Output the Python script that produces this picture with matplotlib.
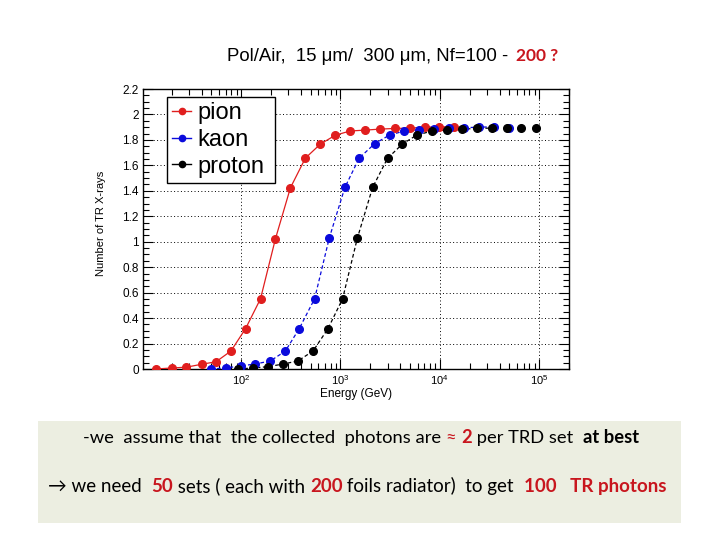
import matplotlib
matplotlib.use("Agg")
import matplotlib.pyplot as plt
import numpy as np
from matplotlib.lines import Line2D
from matplotlib.patches import Rectangle
from matplotlib.font_manager import FontProperties
from matplotlib.ticker import FixedLocator, LogLocator, NullFormatter, FuncFormatter

# ---------------- data ----------------
pion_E = [14, 20, 28, 40, 56, 79, 111, 157, 222, 314, 444, 628, 890,
          1250, 1780, 2510, 3550, 5000, 7050, 9900, 14000]
pion_N = [0.0, 0.008, 0.014, 0.037, 0.057, 0.141, 0.317, 0.552, 1.024, 1.424,
          1.657, 1.767, 1.837, 1.870, 1.877, 1.885, 1.890, 1.893, 1.900, 1.903, 1.903]

kaon_E = [49.5, 70, 99, 138, 197, 279, 385, 550, 773, 1110, 1545, 2210, 3120,
          4410, 6160, 8770, 12350, 17500, 24800, 35100, 49700]
kaon_N = [0.0, 0.008, 0.024, 0.039, 0.063, 0.141, 0.317, 0.552, 1.030, 1.427,
          1.657, 1.770, 1.838, 1.870, 1.877, 1.888, 1.893, 1.896, 1.900, 1.903, 1.896]

proton_E = [93, 131, 186, 265, 373, 530, 750, 1052, 1480, 2110, 2980, 4210, 5870,
            8400, 11870, 16800, 23900, 33500, 47500, 66000, 93500]
proton_N = [0.0, 0.008, 0.018, 0.039, 0.063, 0.141, 0.317, 0.552, 1.027, 1.427,
            1.655, 1.768, 1.838, 1.870, 1.877, 1.885, 1.890, 1.893, 1.896, 1.896, 1.896]

series_names = ["pion", "kaon", "proton"]
y_ticks = [0, 0.2, 0.4, 0.6, 0.8, 1.0, 1.2, 1.4, 1.6, 1.8, 2.0, 2.2]

title_main = "Pol/Air,  15 \u03bcm/  300 \u03bcm, Nf=100 - "
title_red = "200 ?"

line1 = [("-we  assume that  the collected  photons are ", "k", "normal"),
         ("\u2248 ", "#c8161e", "normal"),
         ("2", "#c8161e", "bold"),
         (" per TRD set  ", "k", "normal"),
         ("at best", "k", "bold")]
line2 = [("\u2192 we need  ", "k", "normal"),
         ("50", "#c8161e", "bold"),
         (" sets ( each with ", "k", "normal"),
         ("200", "#c8161e", "bold"),
         (" foils radiator)  to get  ", "k", "normal"),
         ("100   TR photons", "#c8161e", "bold")]

# ---------------- figure ----------------
W, H = 720, 540
fig = plt.figure(figsize=(7.2, 5.4), dpi=100)
fig.patch.set_facecolor("white")

axL, axR, axT, axB = 143, 569, 89, 369
ax = fig.add_axes([axL / W, 1 - axB / H, (axR - axL) / W, (axB - axT) / H])

AXFONT = "Liberation Sans"
RED = "#e01e1e"
BLUE = "#0a0adc"

styles = [
    (pion_E, pion_N, RED, "-"),
    (kaon_E, kaon_N, BLUE, (0, (3, 2))),
    (proton_E, proton_N, "black", (0, (3, 2))),
]
handles = []
for (E, N, col, ls), name in zip(styles, series_names):
    E = np.asarray(E, float)
    N = np.asarray(N, float)
    m = E < 4.0e4
    ax.plot(E[m], N[m], color=col, lw=0.9, ls=ls, zorder=3)
    ax.plot(E, N, ls="none", marker="o", ms=5.5, color=col, mec=col, zorder=4)
    handles.append(Line2D([], [], color=col, lw=1.0, marker="o", ms=4.5, label=name))

ax.set_xscale("log")
ax.set_xlim(10.3, 2.0e5)
ax.set_ylim(0, 2.2)

ax.yaxis.set_major_locator(FixedLocator(y_ticks))
ax.yaxis.set_minor_locator(FixedLocator(np.arange(0, 2.2001, 0.05)))
ax.yaxis.set_major_formatter(FuncFormatter(lambda v, p: "%g" % round(v, 2)))
ax.xaxis.set_major_locator(LogLocator(base=10, numticks=10))
ax.xaxis.set_minor_locator(LogLocator(base=10, subs=np.arange(2, 10), numticks=20))
ax.xaxis.set_minor_formatter(NullFormatter())

ax.tick_params(which="both", direction="in", top=True, right=True, width=0.8)
ax.tick_params(which="major", length=7)
ax.tick_params(which="minor", length=4)
ax.tick_params(axis="y", which="major", labelsize=8.5, pad=3)
ax.tick_params(axis="x", which="major", labelsize=8, pad=3)
for lab in ax.get_xticklabels() + ax.get_yticklabels():
    lab.set_fontfamily(AXFONT)
for s in ax.spines.values():
    s.set_linewidth(1.0)
    s.set_color("black")

ax.grid(True, which="major", color="black", lw=0.7, ls=(0, (1, 2.5)))
ax.set_axisbelow(False)

ax.set_xlabel("Energy (GeV)", fontsize=8.5, family=AXFONT)
ax.xaxis.set_label_coords(0.5, -(388 - axB) / (axB - axT))
ax.xaxis.label.set_va("top")
ax.set_ylabel("Number of TR X-rays", fontsize=8, family=AXFONT)
ax.yaxis.set_label_coords((101 - axL) / (axR - axL), (axB - 223) / (axB - axT))
ax.yaxis.label.set_va("center")

leg = ax.legend(handles=handles, loc="upper left",
                bbox_to_anchor=((167 - axL) / (axR - axL), (axB - 188) / (axB - axT),
                                (275 - 167) / (axR - axL), (188 - 97) / (axB - axT)),
                mode="expand", borderaxespad=0, prop={"family": AXFONT, "size": 17},
                handlelength=0.8, handletextpad=0.25, labelspacing=0.2, borderpad=0.22,
                fancybox=False, framealpha=1, edgecolor="black", facecolor="white")
leg.get_frame().set_linewidth(1.0)
leg.set_zorder(5)

# ---------------- texts with mixed styles ----------------
fig.canvas.draw()
renderer = fig.canvas.get_renderer()


def advance(s, fp):
    w1, _, _ = renderer.get_text_width_height_descent(s + "|", fp, ismath=False)
    w2, _, _ = renderer.get_text_width_height_descent("|", fp, ismath=False)
    return w1 - w2


def draw_pieces(x_px, y_px, pieces, size, family):
    x = x_px
    for s, col, wt in pieces:
        fp = FontProperties(family=family, size=size, weight=wt)
        fig.text(x / W, 1 - y_px / H, s, color=col, fontproperties=fp,
                 ha="left", va="baseline")
        x += advance(s, fp)


TFAM = [AXFONT, "DejaVu Sans"]
draw_pieces(227, 61, [(title_main, "black", "normal")], 13.4, TFAM)
fp_t = FontProperties(family=TFAM, size=13.4)
xr = 227 + advance(title_main, fp_t) + 3
fig.text(xr / W, 1 - 61 / H, title_red, color="#c8161e", fontsize=12.5, weight="bold",
         family=["Lato", "DejaVu Sans"], ha="left", va="baseline")

fig.patches.append(Rectangle((38 / W, 1 - 523 / H), (681 - 38) / W, (523 - 421) / H,
                             transform=fig.transFigure, facecolor="#eceee1",
                             edgecolor="none", zorder=0))

TXT = ["Lato", "DejaVu Sans"]
draw_pieces(83, 443, line1, 13.2, TXT)
draw_pieces(48, 492, line2, 13.5, TXT)

fig.savefig("out.png", dpi=100)
